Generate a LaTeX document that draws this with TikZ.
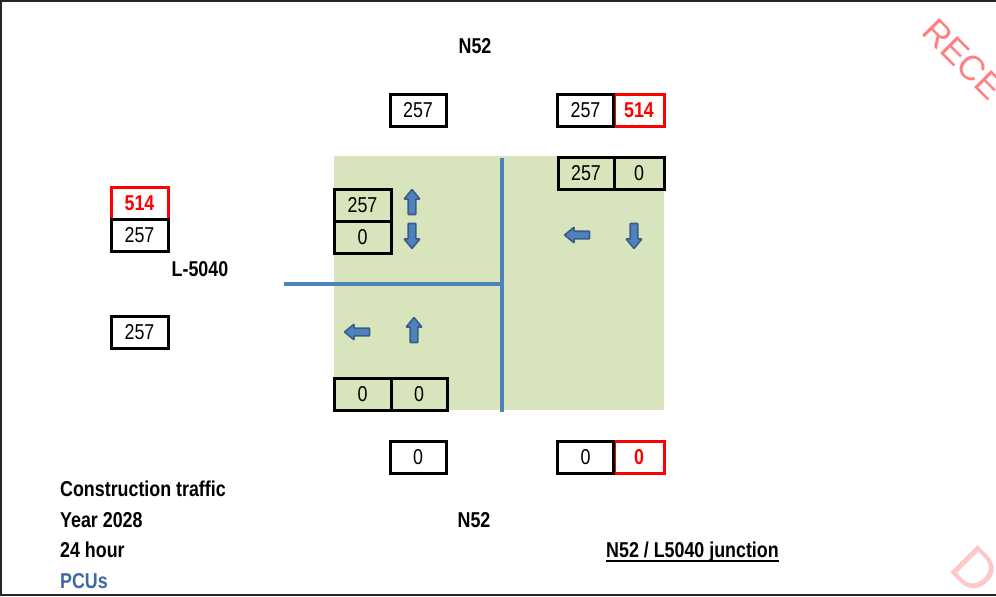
\documentclass[tikz,border=0pt]{standalone}
\usepackage{fontspec}
\setmainfont{Liberation Sans}[FakeStretch=0.83]
\newfontfamily\stampfont{Liberation Sans}
\definecolor{fieldgreen}{RGB}{216,228,188}
\definecolor{roadblue}{RGB}{79,129,189}
\definecolor{arrowedge}{RGB}{56,93,138}
\definecolor{pcublue}{RGB}{62,104,160}
\definecolor{stampred}{RGB}{255,128,128}
\definecolor{stamppale}{RGB}{255,200,200}

\begin{document}
\begin{tikzpicture}[x=1pt,y=-1pt,
    font=\fontsize{21.5}{25}\selectfont,
    cell/.style={draw=black,line width=3pt,minimum width=56pt,minimum height=32pt,inner sep=0pt},
    redcell/.style={cell,draw=red,text=red,font=\fontsize{21.5}{25}\selectfont\bfseries,minimum width=50pt},
    label/.style={font=\fontsize{21.5}{25}\selectfont\bfseries,inner sep=0pt},
    road/.style={roadblue,line width=4pt},
    flowarrow/.pic={\filldraw[fill=roadblue,draw=arrowedge,line width=1.6pt,rounded corners=0.6pt]
      (-12.5,-3.8) -- (3,-3.8) -- (3,-7.8) -- (12.5,0) -- (3,7.8) -- (3,3.8) -- (-12.5,3.8) -- cycle;}]
    \useasboundingbox (0,0) rectangle (996,597);
    % frame
    \draw[line width=2pt,black!85] (996,1) -- (1,1) -- (1,594.5) -- (996,594.5);
    % junction area
    \fill[fieldgreen] (334,156) rectangle (664,410);
    \draw[road] (502,158) -- (502,412);
    \draw[road] (284,284) -- (502,284);
    % turning arrows
    \pic[rotate=90] at (412,202) {flowarrow};
    \pic[rotate=-90] at (412,236) {flowarrow};
    \pic[rotate=180] at (577,235) {flowarrow};
    \pic[rotate=-90] at (634,236) {flowarrow};
    \pic[rotate=180] at (357,332) {flowarrow};
    \pic[rotate=90] at (414,330) {flowarrow};
    % flows, north arm
    \node[redcell] (t3) at (639,110) {514};
    \node[cell] (t1) at (418,110) {257};
    \node[cell] (t2) at (585.5,110) {257};
    \node[cell,minimum width=50pt] (g2) at (639,173) {0};
    \node[cell] (g1) at (586,173) {257};
    % flows, west arm
    \node[redcell,minimum width=57pt] (l1) at (139.5,203) {514};
    \node[cell,minimum width=57pt] (l2) at (139.5,235) {257};
    \node[cell,minimum width=57pt] (l3) at (139.5,332) {257};
    \node[cell,minimum width=57pt] (w1) at (362.5,205) {257};
    \node[cell,minimum width=57pt] (w2) at (362.5,237) {0};
    % flows, south arm
    \node[cell,minimum width=57pt] (s1) at (362.5,394) {0};
    \node[cell] (s2) at (419,394) {0};
    \node[redcell] (b3) at (639,457) {0};
    \node[cell] (b1) at (418,457) {0};
    \node[cell] (b2) at (585.5,457) {0};
    % road names
    \node[label] (ntop) at (475,46.5) {N52};
    \node[label] (nbot) at (474,520) {N52};
    \node[label] (lroad) at (200,269.5) {L-5040};
    % legend
    \node[label,anchor=base west] (leg1) at (60,496) {Construction traffic};
    \node[label,anchor=base west] (leg2) at (60,527) {Year 2028};
    \node[label,anchor=base west] (leg3) at (60,557.5) {24 hour};
    \node[label,anchor=base west,text=pcublue] (leg4) at (60,588) {PCUs};
    \node[label,anchor=base west] (jct) at (606,557.5) {N52 / L5040 junction};
    \draw[line width=1.5pt] ([yshift=-3.5pt]jct.base west) -- ([yshift=-3.5pt]jct.base east);
    % stamp
    \begin{scope}
    \clip (0,0) rectangle (996,597);
    \node[text=stampred,font=\stampfont\fontsize{35}{40}\selectfont,rotate=-45,anchor=base west,inner sep=0pt] (stamp) at (920,33) {RECE};
    \node[text=stamppale,font=\stampfont\fontsize{56}{60}\selectfont,rotate=-45,anchor=base west,inner sep=0pt] (stampd) at (947,569) {D};
    \end{scope}
  \end{tikzpicture}
\end{document}
